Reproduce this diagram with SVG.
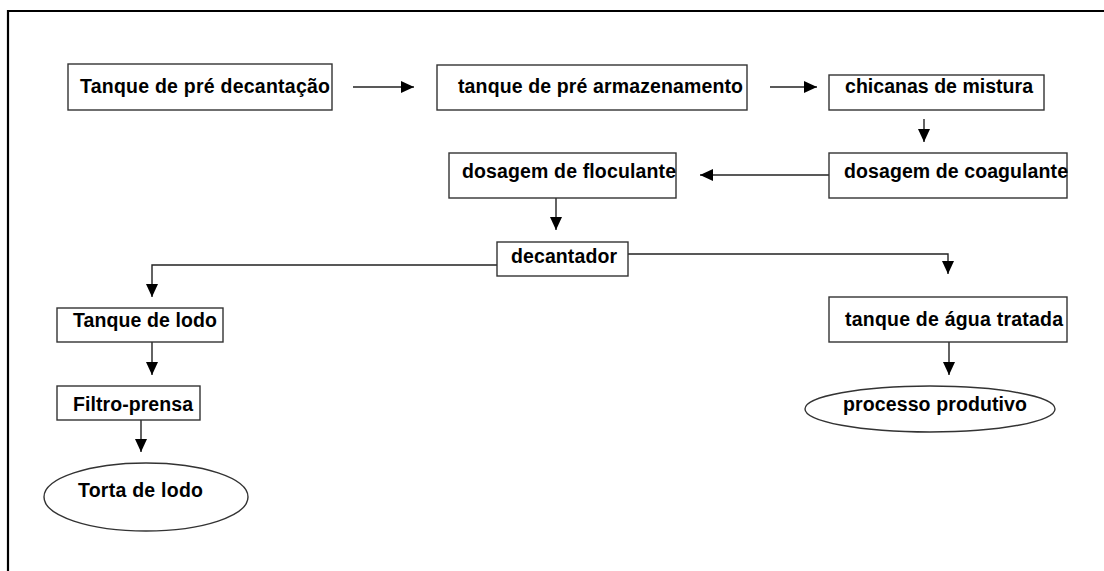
<svg xmlns="http://www.w3.org/2000/svg" width="1104" height="571" viewBox="0 0 1104 571">
<defs>
<marker id="arr" markerUnits="userSpaceOnUse" markerWidth="14" markerHeight="12" refX="13" refY="6" orient="auto">
<path d="M0,0 L13,6 L0,12 Z" fill="#000"/>
</marker>
<style>
.box{fill:#fff;stroke:#333;stroke-width:1.4}
.lbl{font-family:"Liberation Sans",Arial,sans-serif;font-weight:bold;font-size:19.5px;fill:#000}
.con{fill:none;stroke:#222;stroke-width:1.4}
.ar{marker-end:url(#arr)}
</style>
</defs>
<rect x="0" y="0" width="1104" height="571" fill="#fff"/>
<path d="M8,580 V11 H1110" fill="none" stroke="#000" stroke-width="2.2"/>
<g id="connectors">
<path class="con ar" d="M353,87 H414"/>
<path class="con ar" d="M770,87 H817"/>
<path class="con ar" d="M924,119 V142"/>
<path class="con ar" d="M829,175 H700"/>
<path class="con ar" d="M556,198 V230"/>
<path class="con ar" d="M497,265 H152 V297"/>
<path class="con ar" d="M628,254 H948 V274"/>
<path class="con ar" d="M152,342 V375"/>
<path class="con ar" d="M141,420 V452"/>
<path class="con ar" d="M949,342 V375"/>
</g>
<g id="n1"><rect class="box" x="68" y="64" width="264" height="46"/><text class="lbl" x="80" y="93" textLength="250">Tanque de pré decantação</text></g>
<g id="n2"><rect class="box" x="437" y="65" width="310" height="45"/><text class="lbl" x="458" y="93" textLength="285">tanque de pré armazenamento</text></g>
<g id="n3"><rect class="box" x="829" y="75" width="215" height="35"/><text class="lbl" x="845" y="93" textLength="188">chicanas de mistura</text></g>
<g id="n4"><rect class="box" x="829" y="153" width="238" height="45"/><text class="lbl" x="844" y="178" textLength="224">dosagem de coagulante</text></g>
<g id="n5"><rect class="box" x="449" y="153" width="227" height="45"/><text class="lbl" x="462" y="178" textLength="214">dosagem de floculante</text></g>
<g id="n6"><rect class="box" x="497" y="242" width="131" height="34"/><text class="lbl" x="511" y="263" textLength="106">decantador</text></g>
<g id="n7"><rect class="box" x="57" y="308" width="166" height="34"/><text class="lbl" x="73" y="327" textLength="144">Tanque de lodo</text></g>
<g id="n8"><rect class="box" x="57" y="386" width="143" height="34"/><text class="lbl" x="73" y="411" textLength="120">Filtro-prensa</text></g>
<g id="n9"><ellipse class="box" cx="146" cy="497" rx="102" ry="34"/><text class="lbl" x="78" y="497" textLength="125">Torta de lodo</text></g>
<g id="n10"><rect class="box" x="829" y="297" width="238" height="45"/><text class="lbl" x="845" y="326" textLength="218">tanque de água tratada</text></g>
<g id="n11"><ellipse class="box" cx="930" cy="409" rx="125" ry="23"/><text class="lbl" x="843" y="411" textLength="184">processo produtivo</text></g>
</svg>
